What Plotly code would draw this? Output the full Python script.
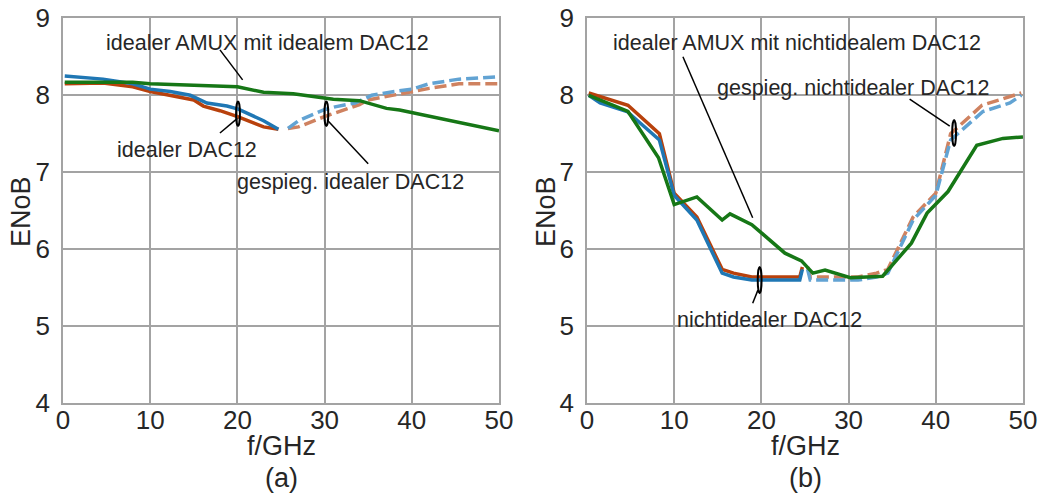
import plotly.graph_objects as go

# ---------------- data (a) ----------------
fa_ideal_blue = [0.2, 4.6, 8.0, 10.0, 12.3, 14.6, 16.5, 18.8, 20.1, 23.0, 24.7]
ya_ideal_blue = [8.25, 8.21, 8.15, 8.08, 8.05, 8.00, 7.90, 7.86, 7.82, 7.67, 7.56]
fa_ideal_orange = [0.2, 4.6, 8.0, 10.0, 15.0, 16.1, 18.0, 20.1, 23.0, 24.7]
ya_ideal_orange = [8.15, 8.16, 8.11, 8.05, 7.94, 7.86, 7.80, 7.72, 7.59, 7.56]
fa_mirr_blue = [25.8, 27.0, 29.9, 31.2, 33.5, 35.4, 38.0, 40.0, 42.0, 45.4, 49.8]
ya_mirr_blue = [7.57, 7.67, 7.81, 7.85, 7.90, 8.00, 8.05, 8.08, 8.15, 8.21, 8.24]
fa_mirr_orange = [25.8, 27.0, 29.9, 32.0, 34.0, 35.0, 39.9, 42.0, 45.4, 49.8]
ya_mirr_orange = [7.57, 7.59, 7.72, 7.80, 7.88, 7.94, 8.05, 8.09, 8.15, 8.15]
fa_amux = [0.2, 8.0, 10.0, 18.4, 20.0, 23.0, 26.4, 31.0, 34.0, 37.1, 38.6, 50.0]
ya_amux = [8.17, 8.17, 8.15, 8.12, 8.11, 8.04, 8.02, 7.95, 7.93, 7.83, 7.81, 7.54]

# ---------------- data (b) ----------------
fb_dac_orange = [0.2, 4.7, 8.3, 10.0, 12.6, 15.5, 16.8, 18.9, 24.4, 24.7]
yb_dac_orange = [8.03, 7.87, 7.50, 6.73, 6.42, 5.74, 5.69, 5.64, 5.64, 5.77]
fb_dac_blue = [0.2, 1.5, 4.6, 8.3, 10.0, 12.6, 15.5, 16.8, 18.9, 24.4, 24.7]
yb_dac_blue = [8.00, 7.90, 7.79, 7.42, 6.70, 6.38, 5.69, 5.64, 5.60, 5.60, 5.74]
fb_mirr_orange = [25.3, 25.6, 31.1, 33.2, 34.5, 37.4, 40.0, 41.7, 45.3, 49.8]
yb_mirr_orange = [5.77, 5.64, 5.64, 5.69, 5.74, 6.42, 6.73, 7.50, 7.87, 8.03]
fb_mirr_blue = [25.3, 25.6, 31.1, 33.2, 34.5, 37.4, 40.0, 41.7, 45.4, 48.5, 49.8]
yb_mirr_blue = [5.74, 5.60, 5.60, 5.64, 5.69, 6.38, 6.70, 7.42, 7.79, 7.90, 8.00]
fb_amux = [0.2, 4.7, 8.2, 10.0, 12.6, 15.5, 16.4, 18.9, 22.7, 24.6, 25.9, 27.3,
           30.2, 33.9, 37.2, 39.0, 41.4, 44.7, 47.7, 50.0]
yb_amux = [8.00, 7.79, 7.19, 6.58, 6.68, 6.38, 6.46, 6.32, 5.95, 5.85, 5.69, 5.73,
           5.63, 5.65, 6.08, 6.47, 6.75, 7.35, 7.44, 7.46]

x_ticks = [0, 10, 20, 30, 40, 50]
y_ticks = [4, 5, 6, 7, 8, 9]

C_BLUE = "#1f77b4"
C_ORANGE = "#b8410c"
C_GREEN = "#167716"
C_BLUE_D = "#62a3d3"
C_ORANGE_D = "#cf8260"
LW = 3.5
DASH = "12px,5px"
FONT = "Liberation Sans, Arial, sans-serif"
TXT = "#262626"

fig = go.Figure()

def add(x, y, color, dash, xa, ya):
    fig.add_trace(go.Scatter(x=x, y=y, mode="lines", xaxis=xa, yaxis=ya,
                             line=dict(color=color, width=LW, dash=dash),
                             showlegend=False, hoverinfo="skip"))

add(fa_ideal_orange, ya_ideal_orange, C_ORANGE, "solid", "x", "y")
add(fa_ideal_blue, ya_ideal_blue, C_BLUE, "solid", "x", "y")
add(fa_mirr_orange, ya_mirr_orange, C_ORANGE_D, DASH, "x", "y")
add(fa_mirr_blue, ya_mirr_blue, C_BLUE_D, DASH, "x", "y")
add(fa_amux, ya_amux, C_GREEN, "solid", "x", "y")

add(fb_dac_orange, yb_dac_orange, C_ORANGE, "solid", "x2", "y2")
add(fb_dac_blue, yb_dac_blue, C_BLUE, "solid", "x2", "y2")
add(fb_mirr_orange, yb_mirr_orange, C_ORANGE_D, DASH, "x2", "y2")
add(fb_mirr_blue, yb_mirr_blue, C_BLUE_D, DASH, "x2", "y2")
add(fb_amux, yb_amux, C_GREEN, "solid", "x2", "y2")

W, H = 1041, 493
ydom = [1 - 403.3 / H, 1 - 18.3 / H]

axis_common = dict(showgrid=True, gridcolor="#a3a3a3", gridwidth=1.5,
                   showline=True, linecolor="#a3a3a3", linewidth=1.5, mirror=True,
                   zeroline=False, ticks="", automargin=False,
                   tickfont=dict(size=26, color=TXT, family=FONT),
                   fixedrange=True)

fig.update_layout(
    template="none",
    width=W, height=H,
    margin=dict(l=0, r=0, t=0, b=0, pad=0, autoexpand=False),
    paper_bgcolor="white", plot_bgcolor="white",
    font=dict(family=FONT, color=TXT),
    xaxis=dict(domain=[63 / W, 499 / W], range=[0, 50], tickvals=x_ticks,
               anchor="y", ticklabelstandoff=-7, **axis_common),
    yaxis=dict(domain=ydom, range=[4, 9], tickvals=y_ticks, anchor="x",
               ticklabelstandoff=6, **axis_common),
    xaxis2=dict(domain=[587 / W, 1023 / W], range=[0, 50], tickvals=x_ticks,
                anchor="y2", ticklabelstandoff=-7, **axis_common),
    yaxis2=dict(domain=ydom, range=[4, 9], tickvals=y_ticks, anchor="x2",
                ticklabelstandoff=6, **axis_common),
)

ann = []
def pa(text, px, py, size=26, angle=0):
    ann.append(dict(text=text, x=px / W, y=1 - py / H, xref="paper", yref="paper",
                    showarrow=False, xanchor="center", yanchor="middle",
                    textangle=angle, font=dict(size=size, color=TXT, family=FONT)))

pa("ENoB", 21, 212, 27, -90)
pa("ENoB", 546, 212, 27, -90)
pa("f/GHz", 281, 446, 27)
pa("f/GHz", 805, 446, 27)
pa("(a)", 281, 478, 27)
pa("(b)", 805, 478, 27)

def da(text, x, y, xr, yr):
    ann.append(dict(text=text, x=x, y=y, xref=xr, yref=yr, showarrow=False,
                    xanchor="center", yanchor="middle",
                    font=dict(size=21.5, color=TXT, family=FONT)))

da("idealer AMUX mit idealem DAC12", 23.5, 8.68, "x", "y")
da("idealer DAC12", 14.2, 7.29, "x", "y")
da("gespieg. idealer DAC12", 33.0, 6.87, "x", "y")
da("idealer AMUX mit nichtidealem DAC12", 24.1, 8.68, "x2", "y2")
da("gespieg. nichtidealer DAC12", 30.6, 8.10, "x2", "y2")
da("nichtidealer DAC12", 20.9, 5.08, "x2", "y2")
fig.update_layout(annotations=ann)

shapes = []
def ln(x0, y0, x1, y1, xr, yr):
    shapes.append(dict(type="line", x0=x0, y0=y0, x1=x1, y1=y1, xref=xr, yref=yr,
                       line=dict(color="black", width=1.5)))

def el(cx, cy, xr, yr, w=0.22, h=0.16):
    shapes.append(dict(type="circle", x0=cx - w, x1=cx + w, y0=cy - h, y1=cy + h,
                       xref=xr, yref=yr, line=dict(color="black", width=2)))

ln(18.0, 8.59, 20.6, 8.20, "x", "y")
ln(18.0, 7.51, 20.0, 7.70, "x", "y")
el(20.07, 7.76, "x", "y")
ln(35.0, 7.11, 30.3, 7.68, "x", "y")
el(30.2, 7.76, "x", "y")

ln(11.0, 8.50, 19.0, 6.41, "x2", "y2")
ln(37.0, 7.95, 41.6, 7.60, "x2", "y2")
el(42.1, 7.51, "x2", "y2", h=0.17)
ln(19.0, 5.30, 19.6, 5.47, "x2", "y2")
el(19.8, 5.60, "x2", "y2", h=0.17)
fig.update_layout(shapes=shapes)

fig.write_html("out.html")
